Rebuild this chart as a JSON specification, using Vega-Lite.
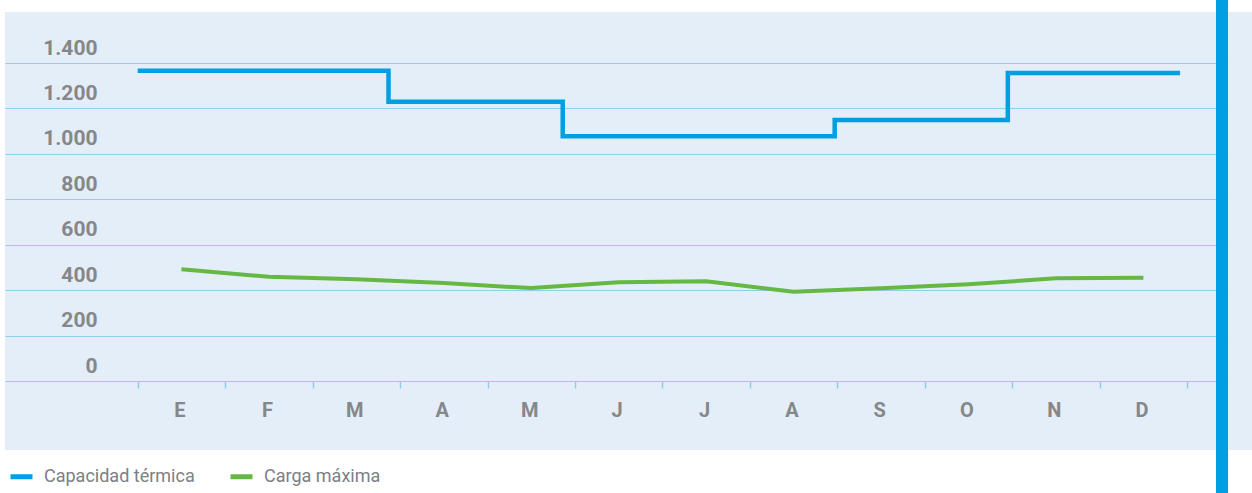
{
  "$schema": "https://vega.github.io/schema/vega-lite/v6.json",
  "width": 1247,
  "height": 438,
  "autosize": {"type": "none"},
  "padding": {"left": 5, "top": 12, "right": 0, "bottom": 43},
  "background": "#ffffff",
  "config": {
    "view": {"fill": "#e3eef8", "stroke": null},
    "font": "Roboto",
    "axisY": {
      "grid": true,
      "gridColor": "#93cdee",
      "gridWidth": 1.2,
      "domain": false,
      "ticks": false,
      "tickSize": 0,
      "labelPadding": -92,
      "labelAlign": "right",
      "labelBaseline": "middle",
      "labelOffset": -15,
      "labelFont": "Roboto",
      "labelFontSize": 21,
      "labelFontWeight": "bold",
      "labelColor": "#858789",
      "title": null
    },
    "axisX": {
      "offset": -69,
      "domain": false,
      "grid": false,
      "title": null,
      "tickColor": "#93cdee",
      "tickWidth": 1.5,
      "labelFont": "Roboto",
      "labelFontSize": 20,
      "labelFontWeight": "bold",
      "labelColor": "#858789",
      "labelBaseline": "middle"
    },
    "legend": {
      "orient": "none",
      "legendX": 3,
      "legendY": 451,
      "direction": "horizontal",
      "title": null,
      "symbolType": "stroke",
      "symbolStrokeWidth": 5,
      "symbolSize": 484,
      "labelFont": "Roboto",
      "labelFontSize": 18,
      "labelColor": "#7d8085",
      "labelOffset": 9,
      "columnPadding": 25,
      "padding": 0
    }
  },
  "datasets": {
    "cap": [
      {"pos": 0.5, "valor": 1366, "serie": "Capacidad térmica"},
      {"pos": 3.368, "valor": 1230, "serie": "Capacidad térmica"},
      {"pos": 5.36, "valor": 1078, "serie": "Capacidad térmica"},
      {"pos": 8.47, "valor": 1149, "serie": "Capacidad térmica"},
      {"pos": 10.45, "valor": 1356, "serie": "Capacidad térmica"},
      {"pos": 12.42, "valor": 1356, "serie": "Capacidad térmica"}
    ],
    "carga": [
      {"mes": 1, "valor": 492, "serie": "Carga máxima"},
      {"mes": 2, "valor": 459, "serie": "Carga máxima"},
      {"mes": 3, "valor": 448, "serie": "Carga máxima"},
      {"mes": 4, "valor": 431, "serie": "Carga máxima"},
      {"mes": 5, "valor": 409, "serie": "Carga máxima"},
      {"mes": 6, "valor": 435, "serie": "Carga máxima"},
      {"mes": 7, "valor": 439, "serie": "Carga máxima"},
      {"mes": 8, "valor": 393, "serie": "Carga máxima"},
      {"mes": 9, "valor": 408, "serie": "Carga máxima"},
      {"mes": 10, "valor": 426, "serie": "Carga máxima"},
      {"mes": 11, "valor": 452, "serie": "Carga máxima"},
      {"mes": 12, "valor": 455, "serie": "Carga máxima"}
    ],
    "decor": [{}]
  },
  "layer": [
    {
      "data": {"name": "cap"},
      "mark": {"type": "line", "interpolate": "step-after", "strokeWidth": 4.5},
      "encoding": {
        "x": {
          "field": "pos", "type": "quantitative",
          "scale": {"domain": [-1.0174, 13.242], "nice": false, "zero": false},
          "axis": {"orient": "bottom", "values": [0.5, 1.5, 2.5, 3.5, 4.5, 5.5, 6.5, 7.5, 8.5, 9.5, 10.5, 11.5, 12.5], "labels": false, "ticks": true, "tickSize": 7}
        },
        "y": {
          "field": "valor", "type": "quantitative",
          "scale": {"domain": [-303.8, 1624.8], "nice": false, "zero": false},
          "axis": {"orient": "left", "values": [0, 200, 400, 600, 800, 1000, 1200, 1400], "labelExpr": "replace(format(datum.value, ',d'), ',', '.')"}
        },
        "color": {
          "field": "serie", "type": "nominal",
          "scale": {"domain": ["Capacidad térmica", "Carga máxima"], "range": ["#009fe3", "#65b844"]}
        }
      }
    },
    {
      "data": {"name": "carga"},
      "mark": {"type": "line", "strokeWidth": 4},
      "encoding": {
        "x": {
          "field": "mes", "type": "quantitative",
          "scale": {"domain": [-1.0174, 13.242], "nice": false, "zero": false},
          "axis": {"orient": "bottom", "values": [1, 2, 3, 4, 5, 6, 7, 8, 9, 10, 11, 12], "ticks": false, "tickSize": 0, "labelPadding": 29, "labelOffset": -2, "labelExpr": "['E','F','M','A','M','J','J','A','S','O','N','D'][datum.value - 1]"}
        },
        "y": {
          "field": "valor", "type": "quantitative",
          "scale": {"domain": [-303.8, 1624.8], "nice": false, "zero": false},
          "axis": null
        },
        "color": {
          "field": "serie", "type": "nominal",
          "scale": {"domain": ["Capacidad térmica", "Carga máxima"], "range": ["#009fe3", "#65b844"]}
        }
      }
    },
    {
      "data": {"name": "decor"},
      "mark": {"type": "rect", "color": "#e3eef8"},
      "encoding": {
        "x": {"datum": 12.968, "type": "quantitative", "scale": {"domain": [-1.0174, 13.242], "nice": false, "zero": false}, "axis": null},
        "x2": {"datum": 13.242},
        "y": {"datum": -303.8, "type": "quantitative", "scale": {"domain": [-303.8, 1624.8], "nice": false, "zero": false}, "axis": null},
        "y2": {"datum": 1624.8}
      }
    },
    {
      "data": {"name": "decor"},
      "mark": {"type": "rule", "color": "#009fe3", "strokeWidth": 12},
      "encoding": {
        "x": {"datum": 12.899, "type": "quantitative", "scale": {"domain": [-1.0174, 13.242], "nice": false, "zero": false}, "axis": null},
        "y": {"datum": 1677.7, "type": "quantitative", "scale": {"domain": [-303.8, 1624.8], "nice": false, "zero": false}, "axis": null},
        "y2": {"datum": -493}
      }
    }
  ],
  "resolve": {"axis": {"x": "independent", "y": "independent"}}
}
